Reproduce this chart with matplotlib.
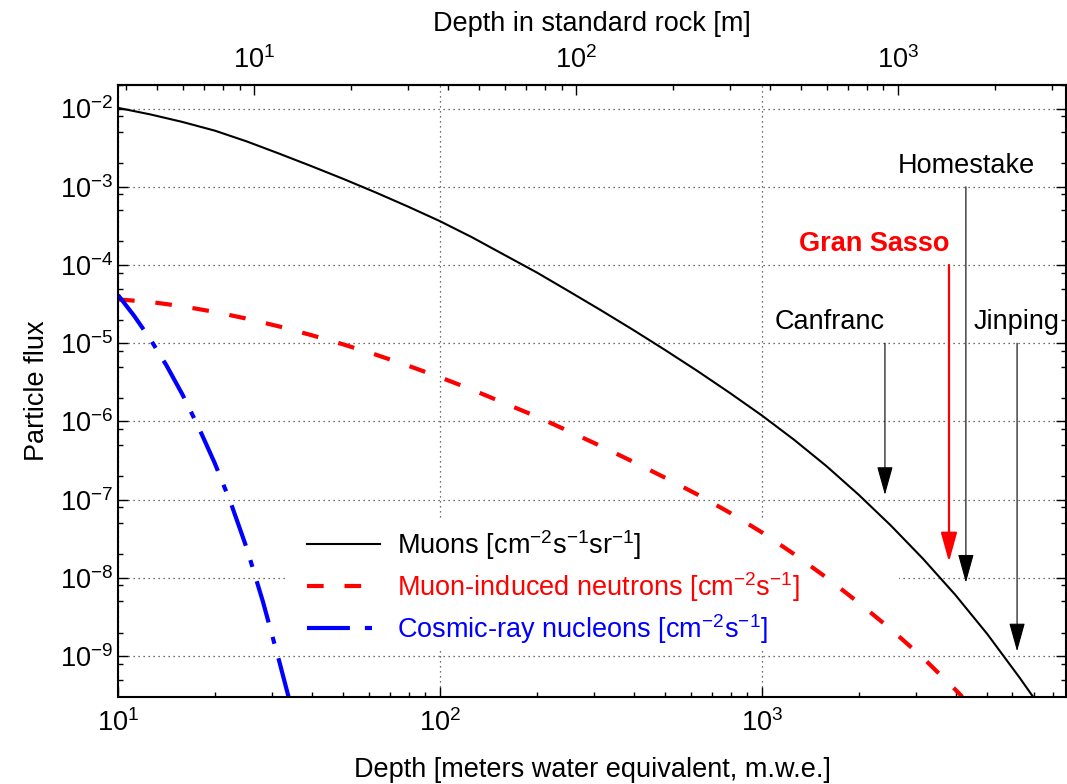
import numpy as np
import matplotlib
matplotlib.use("Agg")
from matplotlib import pyplot as plt
from matplotlib.ticker import LogLocator, NullFormatter
from matplotlib.patches import Rectangle

plt.rcParams['font.family'] = ['Liberation Sans', 'DejaVu Sans']
plt.rcParams['mathtext.fontset'] = 'custom'
plt.rcParams['mathtext.rm'] = 'Liberation Sans'
plt.rcParams['mathtext.it'] = 'Liberation Sans:italic'
plt.rcParams['mathtext.bf'] = 'Liberation Sans:bold'

# depth in m.w.e. and flux
muon_depth = [10, 12.6, 15.8, 20, 25.1, 31.6, 39.8, 50.1, 63.1, 79.4, 100, 126,
              158, 200, 251, 316, 398, 501, 631, 794, 1000, 1259, 1585, 1995,
              2512, 3162, 3981, 5012, 6310, 6950]
muon_flux = [1.02e-2, 8.41e-3, 6.76e-3, 5.21e-3, 3.80e-3, 2.66e-3, 1.84e-3,
             1.26e-3, 8.47e-4, 5.60e-4, 3.63e-4, 2.25e-4, 1.355e-4, 8.0e-5,
             4.63e-5, 2.64e-5, 1.48e-5, 8.15e-6, 4.40e-6, 2.32e-6, 1.19e-6,
             5.82e-7, 2.69e-7, 1.16e-7, 4.68e-8, 1.76e-8, 6.10e-9, 1.91e-9,
             5.31e-10, 3.02e-10]

neutron_depth = [10, 12.6, 15.8, 20, 25.1, 31.6, 39.8, 50.1, 63.1, 79.4, 100,
                 126, 158, 200, 251, 316, 398, 501, 631, 794, 1000, 1259, 1585,
                 1995, 2512, 3162, 3981, 4190]
neutron_flux = [3.63e-5, 3.37e-5, 2.97e-5, 2.51e-5, 2.06e-5, 1.64e-5, 1.27e-5,
                9.65e-6, 7.15e-6, 5.18e-6, 3.67e-6, 2.54e-6, 1.72e-6, 1.15e-6,
                7.50e-7, 4.83e-7, 3.05e-7, 1.90e-7, 1.16e-7, 6.82e-8, 3.81e-8,
                2.01e-8, 1.01e-8, 4.83e-9, 2.21e-9, 9.53e-10, 3.75e-10, 3.02e-10]

nucleon_depth = [10, 11.22, 12.59, 14.13, 15.85, 17.78, 19.95, 22.39, 25.12,
                 28.18, 31.62, 33.85]
nucleon_flux = [4.13e-5, 2.24e-5, 1.13e-5, 5.23e-6, 2.21e-6, 8.48e-7, 2.96e-7,
                9.14e-8, 2.38e-8, 4.99e-9, 8.83e-10, 3.02e-10]

site_names = ["Canfranc", "Gran Sasso", "Homestake", "Jinping"]
site_depth = [2410, 3810, 4300, 6200]
site_tail = [1e-5, 1e-4, 1e-3, 1e-5]
site_tip = [1.15e-7, 1.6e-8, 8.7e-9, 1.15e-9]
site_text_y = [1.5e-5, 1.5e-4, 1.5e-3, 1.5e-5]
site_ha = ["right", "right", "center", "center"]
site_color = ["black", "red", "black", "black"]

rock_density = 2.65
fs = 19.5

fig = plt.figure(figsize=(10.67, 7.84), dpi=100)
ax = fig.add_axes([0.1106, 0.111, 0.8885, 0.7806])
ax.set_xscale("log")
ax.set_yscale("log")
ax.set_xlim(10, 8800)
ax.set_ylim(3.0e-10, 2.0e-2)
ax.set_axisbelow(True)

ax.plot(muon_depth, muon_flux, color="black", lw=1.5,
        label=r"Muons [cm$^{-2}$s$^{-1}$sr$^{-1}$]")
ax.plot(neutron_depth, neutron_flux, color="red", lw=3, dashes=(4, 5),
        label=r"Muon-induced neutrons [cm$^{-2}$s$^{-1}$]")
ax.plot(nucleon_depth, nucleon_flux, color="blue", lw=3,
        dashes=(10.3, 3.6, 1.7, 3.6),
        label=r"Cosmic-ray nucleons [cm$^{-2}$s$^{-1}$]")

# opaque key area hides the grid but not the curves
ax.add_patch(Rectangle((0.178, 0.080), 0.646, 0.2125, transform=ax.transAxes,
                       facecolor="white", edgecolor="none", zorder=1))

for name, d, tail, tip, ty, ha, col in zip(site_names, site_depth, site_tail,
                                           site_tip, site_text_y, site_ha, site_color):
	lw = 1.6 if col == "red" else 0.8
	ax.annotate("", xy=(d, tip), xytext=(d, tail),
	            arrowprops=dict(arrowstyle="-|>,head_length=0.9,head_width=0.25",
	                            color=col, lw=lw, shrinkA=0, shrinkB=0,
	                            mutation_scale=20))
	ax.text(d, ty, name, ha=ha, va="baseline", fontsize=fs, color=col,
	        fontweight="bold" if col == "red" else "normal")

ax.grid(True, which="major", linestyle=(0, (1, 3)), color="0.25", lw=0.9)

ax.xaxis.set_minor_locator(LogLocator(base=10, subs=np.arange(2, 10)))
ax.xaxis.set_minor_formatter(NullFormatter())
ax.yaxis.set_major_locator(LogLocator(base=10, numticks=20))
ax.yaxis.set_minor_locator(LogLocator(base=10, subs=(2, 5, 8), numticks=20))
ax.yaxis.set_minor_formatter(NullFormatter())

ax.tick_params(which="both", direction="in", labelsize=fs, top=False, right=True)
ax.tick_params(which="major", length=7, width=1)
ax.tick_params(which="minor", length=3.5, width=1)
ax.tick_params(axis="x", pad=9)
ax.tick_params(axis="y", pad=3.5)
for sp in ax.spines.values():
	sp.set_linewidth(1.5)

top = ax.secondary_xaxis("top", functions=(lambda x: x / rock_density,
                                           lambda x: x * rock_density))
top.xaxis.set_minor_locator(LogLocator(base=10, subs=np.arange(2, 10)))
top.xaxis.set_minor_formatter(NullFormatter())
top.tick_params(which="both", direction="in", labelsize=fs, pad=8)
top.tick_params(which="major", length=7, width=1)
top.tick_params(which="minor", length=3.5, width=1)
top.spines["top"].set_linewidth(1.5)
top.set_xlabel("Depth in standard rock [m]", fontsize=fs, labelpad=11)

ax.set_xlabel("Depth [meters water equivalent, m.w.e.]", fontsize=fs, labelpad=14)
ax.set_ylabel("Particle flux", fontsize=fs, labelpad=7)

ax.legend(loc="center left", bbox_to_anchor=(0.1994, 0.1797), frameon=False,
          fontsize=fs, handlelength=2.7, handletextpad=0.63, labelspacing=0.3,
          borderpad=0, borderaxespad=0, labelcolor="linecolor")

fig.savefig("out.png", dpi=100)
